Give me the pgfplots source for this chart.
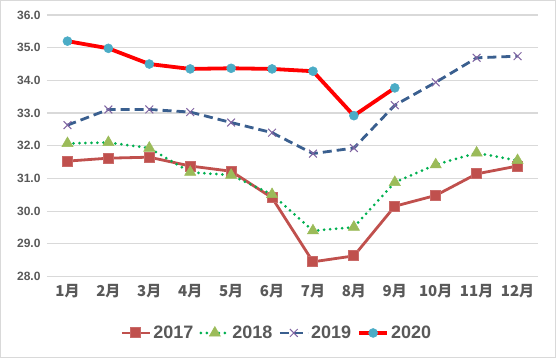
\documentclass[border=0pt]{standalone}
\usepackage{pgfplots}
\pgfplotsset{compat=1.18}
\usepackage{fontspec}
\setmainfont{Liberation Sans}
\newfontfamily\cjk{Noto Sans CJK SC}
\definecolor{txt}{HTML}{595959}
\definecolor{gridc}{HTML}{D9D9D9}
\definecolor{c17}{HTML}{C0504D}
\definecolor{c18l}{HTML}{00B050}
\definecolor{c18m}{HTML}{9BBB59}
\definecolor{c19l}{HTML}{3A5F8F}
\definecolor{c19m}{HTML}{8064A2}
\definecolor{c20l}{HTML}{FF0000}
\definecolor{c20m}{HTML}{4BACC6}
\begin{document}
\begin{tikzpicture}
\useasboundingbox (0pt,0pt) rectangle (556pt,358pt);
\draw[gridc, line width=1pt] (0.5pt,0.5pt) rectangle (555.5pt,357.5pt);
\begin{axis}[
  at={(47pt,81.5pt)}, anchor=south west,
  width=491pt, height=261.5pt, scale only axis,
  xmin=0.5, xmax=12.5, ymin=28, ymax=36,
  xtick={1,2,3,4,5,6,7,8,9,10,11,12},
  xticklabels={1月,2月,3月,4月,5月,6月,7月,8月,9月,10月,11月,12月},
  ytick={28,29,30,31,32,33,34,35,36},
  axis line style={draw=none},
  major tick length=0pt,
  ymajorgrids,
  grid style={gridc, line width=1.2pt},
  xticklabel style={font=\cjk\bfseries\fontsize{15}{15}\selectfont, text=txt, yshift=-4pt},
  yticklabel style={font=\bfseries\fontsize{12}{12}\selectfont, text=txt, xshift=-3pt},
  /pgf/number format/.cd, fixed, fixed zerofill, precision=1, assume math mode=true,
  /pgfplots/.cd,
  legend style={at={(0.468,-0.216)}, anchor=center, draw=none, fill=none,
    legend columns=4, font=\bfseries\fontsize{18}{18}\selectfont, text=txt,
    /tikz/every even column/.append style={column sep=4pt},
    inner sep=0pt},
  legend cell align=left,
  legend image code/.code={\draw[mark repeat=2,mark phase=2,#1] plot coordinates {(0pt,0pt) (14pt,0pt) (28pt,0pt)};},
]
\addplot[c17, line width=2.8pt, mark=square*, mark size=5pt, mark options={solid, fill=c17, draw=c17!85!white, line width=1pt}]
coordinates {(1,31.53) (2,31.62) (3,31.65) (4,31.38) (5,31.22) (6,30.41) (7,28.45) (8,28.63) (9,30.15) (10,30.48) (11,31.14) (12,31.38)};
\addlegendentry{2017}
\addplot[c18l, line width=3pt, dash pattern=on 0pt off 6pt, line cap=round, mark=triangle*, mark size=6.5pt, mark options={solid, fill=c18m, draw=c18m, line width=0.5pt}]
coordinates {(1,32.07) (2,32.10) (3,31.93) (4,31.19) (5,31.10) (6,30.51) (7,29.40) (8,29.51) (9,30.88) (10,31.42) (11,31.78) (12,31.55)};
\addlegendentry{2018}
\addplot[c19l, line width=2.8pt, dash pattern=on 9pt off 5pt, mark=x, mark size=5.5pt, mark options={solid, draw=c19m, line width=1pt}]
coordinates {(1,32.63) (2,33.11) (3,33.11) (4,33.03) (5,32.71) (6,32.40) (7,31.76) (8,31.93) (9,33.24) (10,33.94) (11,34.69) (12,34.74)};
\addlegendentry{2019}
\addplot[c20l, line width=3.8pt, mark=*, mark size=4.5pt, mark options={solid, fill=c20m, draw=c20m, line width=0.5pt}]
coordinates {(1,35.20) (2,34.98) (3,34.50) (4,34.35) (5,34.37) (6,34.35) (7,34.28) (8,32.92) (9,33.77)};
\addlegendentry{2020}
\end{axis}
\end{tikzpicture}
\end{document}
